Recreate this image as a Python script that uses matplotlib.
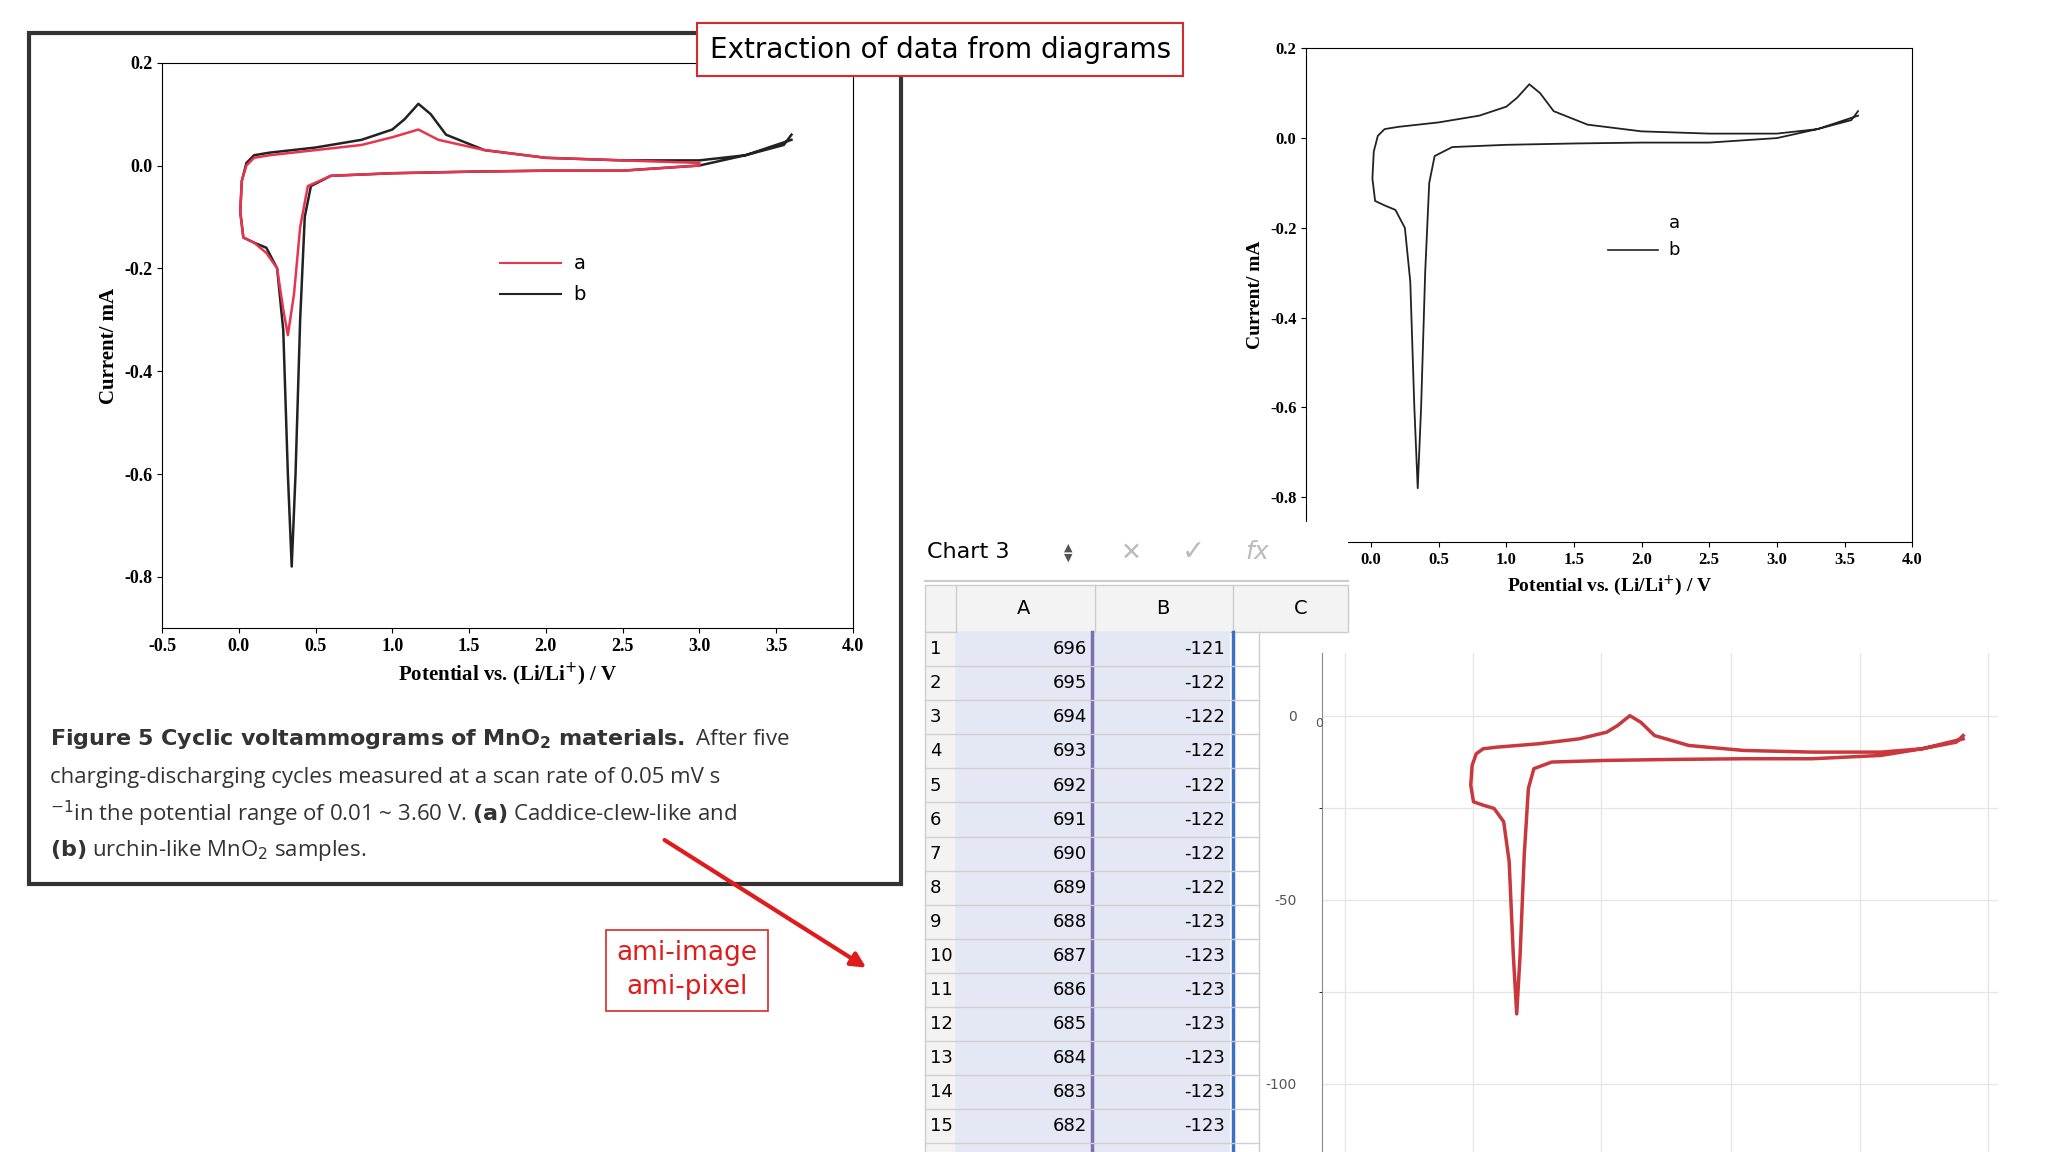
import matplotlib.pyplot as plt
from matplotlib.patches import Rectangle, FancyArrowPatch
import numpy as np

plt.rcParams['axes.unicode_minus'] = False

W, H = 1568, 882

# curve b (black), closed loop: cathodic branch then anodic branch
b_v = [3.6, 3.3, 3.0, 2.5, 2.0, 1.5, 1.0, 0.6, 0.47, 0.43, 0.40, 0.37, 0.345, 0.32, 0.29, 0.25, 0.18, 0.1, 0.03, 0.01,
       0.02, 0.05, 0.1, 0.2, 0.5, 0.8, 1.0, 1.08, 1.17, 1.25, 1.35, 1.6, 2.0, 2.5, 3.0, 3.3, 3.55, 3.6]
b_i = [0.05, 0.02, 0.0, -0.01, -0.01, -0.012, -0.015, -0.02, -0.04, -0.1, -0.3, -0.6, -0.78, -0.6, -0.32, -0.2, -0.16, -0.15, -0.14, -0.09,
       -0.03, 0.005, 0.02, 0.025, 0.035, 0.05, 0.07, 0.09, 0.12, 0.1, 0.06, 0.03, 0.015, 0.01, 0.01, 0.02, 0.04, 0.06]
# curve a (red)
a_v = [3.0, 2.5, 2.0, 1.5, 1.0, 0.6, 0.45, 0.40, 0.36, 0.32, 0.29, 0.25, 0.18, 0.1, 0.03, 0.01,
       0.02, 0.05, 0.1, 0.2, 0.5, 0.8, 1.0, 1.17, 1.3, 1.6, 2.0, 2.5, 3.0]
a_i = [0.0, -0.01, -0.01, -0.012, -0.015, -0.02, -0.04, -0.12, -0.25, -0.33, -0.28, -0.2, -0.17, -0.15, -0.14, -0.09,
       -0.03, 0.0, 0.015, 0.02, 0.03, 0.04, 0.055, 0.07, 0.05, 0.03, 0.015, 0.01, 0.005]

col_a = list(range(696, 681, -1))
col_b = [-121, -122, -122, -122, -122, -122, -122, -122, -123, -123, -123, -123, -123, -123, -123]

fig = plt.figure(figsize=(20.48, 11.52), dpi=100)
fig.patch.set_facecolor('white')


def box(x0, y0, x1, y1):
    return [x0 / W, 1 - y1 / H, (x1 - x0) / W, (y1 - y0) / H]


serif = {'family': 'Liberation Serif', 'weight': 'bold'}

# left panel frame
frame = Rectangle((22 / W, 1 - 677 / H), 668 / W, 652 / H, transform=fig.transFigure,
                  fill=False, ec='#333333', lw=3)
fig.add_artist(frame)

ax1 = fig.add_axes(box(124, 48, 653, 481))
ax1.plot(b_v, b_i, color='#222222', lw=1.8, label='b')
ax1.plot(a_v, a_i, color='#e8344e', lw=1.8, label='a')
ax1.set_xlim(-0.5, 4.0)
ax1.set_ylim(-0.9, 0.2)
ax1.set_xticks(np.arange(-0.5, 4.01, 0.5))
ax1.set_yticks([-0.8, -0.6, -0.4, -0.2, 0.0, 0.2])
for t in ax1.get_xticklabels() + ax1.get_yticklabels():
    t.set_fontproperties(serif)
    t.set_fontsize(13)
ax1.set_xlabel('Potential vs. (Li/Li$^{+}$) / V', fontdict=serif, fontsize=15)
ax1.set_ylabel('Current/ mA', fontdict=serif, fontsize=15)
ax1.plot([1.7, 2.1], [-0.19, -0.19], color='#e8344e', lw=1.5)
ax1.plot([1.7, 2.1], [-0.25, -0.25], color='#222222', lw=1.5)
ax1.text(2.18, -0.19, 'a', va='center', fontsize=14)
ax1.text(2.18, -0.25, 'b', va='center', fontsize=14)

# caption
cap = [
    (566, r'$\mathbf{Figure\ 5\ Cyclic\ voltammograms\ of\ MnO_2\ materials.}$ After five'),
    (595, 'charging-discharging cycles measured at a scan rate of 0.05 mV s'),
    (623, r'$^{-1}$in the potential range of 0.01 ~ 3.60 V. $\mathbf{(a)}$ Caddice-clew-like and'),
    (651, r'$\mathbf{(b)}$ urchin-like MnO$_2$ samples.'),
]
for y, s in cap:
    fig.text(38 / W, 1 - y / H, s, fontsize=16, va='center', color='#333333',
             family='Open Sans')

# title box
fig.text(720 / W, 1 - 38 / H, 'Extraction of data from diagrams', fontsize=20, ha='center', va='center',
         bbox=dict(boxstyle='square,pad=0.45', fc='white', ec='#d62b2b', lw=1.5))

# right top chart
ax2 = fig.add_axes(box(1000, 37, 1464, 415))
ax2.plot(b_v, b_i, color='#222222', lw=1.3)
ax2.set_xlim(-0.48, 4.0)
ax2.set_ylim(-0.9, 0.2)
ax2.set_xticks(np.arange(0, 4.01, 0.5))
ax2.set_yticks([-0.8, -0.6, -0.4, -0.2, 0.0, 0.2])
for t in ax2.get_xticklabels() + ax2.get_yticklabels():
    t.set_fontproperties(serif)
    t.set_fontsize(12)
ax2.set_xlabel('Potential vs. (Li/Li$^{+}$) / V', fontdict=serif, fontsize=14)
ax2.set_ylabel('Current/ mA', fontdict=serif, fontsize=14)
ax2.plot([1.75, 2.12], [-0.25, -0.25], color='#222222', lw=1.2)
ax2.text(2.2, -0.19, 'a', va='center', fontsize=13)
ax2.text(2.2, -0.25, 'b', va='center', fontsize=13)

# spreadsheet
axt = fig.add_axes([0, 0, 1, 1], zorder=5)
axt.set_xlim(0, W)
axt.set_ylim(H, 0)
axt.axis('off')
axt.add_patch(Rectangle((708, 400), 324, 43, fc='white', ec='none'))
axt.text(710, 423, 'Chart 3', fontsize=16, va='center')
axt.text(818, 423, '▲\n▼', fontsize=8, va='center', ha='center', color='#555555', linespacing=1.0)
axt.text(866, 423, '✕', fontsize=18, va='center', ha='center', color='#bbbbbb')
axt.text(914, 423, '✓', fontsize=20, va='center', ha='center', color='#bbbbbb')
axt.text(963, 423, r'$fx$', fontsize=18, va='center', ha='center', color='#bbbbbb')
axt.plot([708, 1032], [445, 445], color='#cccccc', lw=1.5)
axt.add_patch(Rectangle((708, 448), 324, 36, fc='#f3f3f3', ec='#cccccc'))
axt.add_patch(Rectangle((708, 484), 24, 400, fc='#f3f3f3', ec='#cccccc'))
axt.add_patch(Rectangle((732, 484), 210, 400, fc='#e4e8f4', ec='none'))
for x, s in [(784, 'A'), (890, 'B'), (996, 'C')]:
    axt.text(x, 466, s, fontsize=14, ha='center', va='center')
for x in [732, 838, 944]:
    axt.plot([x, x], [448, 484], color='#cccccc', lw=1)
axt.plot([836, 836], [484, 884], color='#7a6fb0', lw=2.5)
axt.plot([944, 944], [484, 884], color='#3f6fc4', lw=2.5)
axt.plot([964, 964], [484, 884], color='#cccccc', lw=1)
for k in range(15):
    yc = 497 + k * 26.1
    axt.plot([708, 964], [yc + 13, yc + 13], color='#d0d0d0', lw=1)
    axt.text(712, yc, str(k + 1), fontsize=13, va='center')
    axt.text(832, yc, str(col_a[k]), fontsize=13, va='center', ha='right')
    axt.text(938, yc, str(col_b[k]), fontsize=13, va='center', ha='right')

# ami box and arrow
fig.text(526 / W, 1 - 743 / H, 'ami-image\nami-pixel', fontsize=19, color='#e01b1b', ha='center', va='center',
         linespacing=1.4, bbox=dict(boxstyle='square,pad=0.4', fc='white', ec='#d62b2b', lw=1.2))
arr = FancyArrowPatch((507 / W, 1 - 642 / H), (665 / W, 1 - 742 / H), transform=fig.transFigure,
                      arrowstyle='-|>', mutation_scale=22, color='#e01b1b', lw=3)
fig.add_artist(arr)

# bottom right extracted plot
ax3 = fig.add_axes(box(1012, 500, 1530, 882))
px = [113 + v * 105 for v in b_v]
py = [(i - 0.12) * 90 for i in b_i]
ax3.plot(px, py, color='#c8383c', lw=2.5)
ax3.set_xlim(0, 518)
ax3.set_ylim(-118.5, 17)
ax3.set_yticks([0, -50, -100])
ax3.set_xticks([18, 116, 214, 313, 412, 510])
ax3.set_xticklabels([])
ax3.set_yticks([-25, -75], minor=True)
ax3.grid(True, which='both', color='#e6e6e6', lw=1)
ax3.tick_params(axis='y', labelsize=10, colors='#555555', length=0, pad=18)
ax3.tick_params(axis='x', length=0)
for s in ['top', 'right', 'bottom']:
    ax3.spines[s].set_visible(False)
ax3.spines['left'].set_color('#888888')
ax3.text(-2, -3, '0', fontsize=9, ha='center', color='#555555')

fig.savefig('out.png', dpi=100)
